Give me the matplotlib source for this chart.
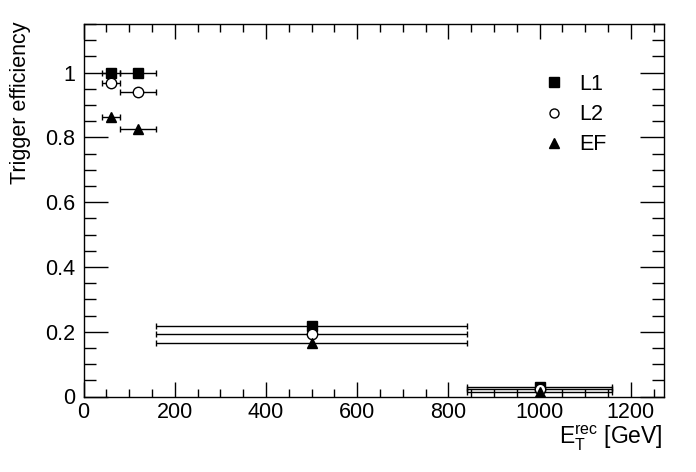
import matplotlib
matplotlib.use("Agg")
import matplotlib.pyplot as plt
from matplotlib.lines import Line2D
from matplotlib.ticker import MultipleLocator

plt.rcParams['font.family'] = ['Liberation Sans', 'DejaVu Sans']
plt.rcParams['mathtext.fontset'] = 'custom'
plt.rcParams['mathtext.rm'] = 'Liberation Sans'
plt.rcParams['mathtext.it'] = 'Liberation Sans:italic'

# bin centres and edges in E_T^rec [GeV]
et_centre = [60, 120, 500, 1000]
et_low = [40, 80, 160, 840]
et_high = [80, 160, 840, 1160]

eff_l1 = [1.0, 1.0, 0.218, 0.030]
eff_l2 = [0.967, 0.94, 0.192, 0.022]
eff_ef = [0.862, 0.826, 0.165, 0.014]

series = [
    ('L1', eff_l1, 's', 'black'),
    ('L2', eff_l2, 'o', 'white'),
    ('EF', eff_ef, '^', 'black'),
]

FS = 15.5

fig = plt.figure(figsize=(6.96, 4.72), dpi=100)
ax = fig.add_axes([83.5 / 696, 1 - 396.5 / 472, (664 - 83.5) / 696, (396.5 - 24) / 472])

xerr = [[c - lo for c, lo in zip(et_centre, et_low)],
        [hi - c for c, hi in zip(et_centre, et_high)]]

handles = []
for name, vals, marker, face in series:
    size = 7.5 if marker == 'o' else 7.2
    ax.errorbar(et_centre, vals, xerr=xerr, fmt=marker, color='black',
                mfc=face, mec='black', ms=size, mew=1.0, elinewidth=1.0,
                capsize=2.5, capthick=1.0)
    handles.append(Line2D([], [], ls='none', marker=marker, color='black',
                          mfc=face, mec='black', ms=6.5, mew=1.0))

ax.set_xlim(0, 1273)
ax.set_ylim(0, 1.15)
ax.xaxis.set_major_locator(MultipleLocator(200))
ax.xaxis.set_minor_locator(MultipleLocator(50))
ax.yaxis.set_major_locator(MultipleLocator(0.2))
ax.yaxis.set_minor_locator(MultipleLocator(0.05))
ax.xaxis.set_major_formatter(plt.FuncFormatter(lambda v, p: f'{v:g}'))
ax.yaxis.set_major_formatter(plt.FuncFormatter(lambda v, p: f'{v:g}'))

ax.tick_params(which='both', direction='in', top=True, right=True, width=1.0,
               labelsize=FS, color='black')
ax.tick_params(axis='x', which='major', length=11, pad=4)
ax.tick_params(axis='x', which='minor', length=5.5)
ax.tick_params(axis='y', which='major', length=17, pad=6)
ax.tick_params(axis='y', which='minor', length=8.5)
for s in ax.spines.values():
    s.set_linewidth(1.0)

ax.set_xlabel(r'E$_{\mathrm{T}}^{\mathrm{rec}}$ [GeV]', fontsize=16.5, ha='right', va='top')
ax.xaxis.set_label_coords((663 - 83.5) / 580.5, -(424 - 396.5) / 372.5)
ax.set_ylabel('Trigger efficiency', fontsize=FS, ha='right', va='center')
ax.yaxis.set_label_coords(-(83.5 - 21) / 580.5, (396.5 - 21) / 372.5)

ax.legend(handles, [s[0] for s in series], loc='upper left', frameon=False,
          bbox_to_anchor=(543 / 696, 1 - 74 / 472), bbox_transform=fig.transFigure,
          fontsize=FS, handlelength=1.0, handletextpad=0.7, labelspacing=0.42,
          borderaxespad=0, borderpad=0)

fig.savefig('out.png', dpi=100)
